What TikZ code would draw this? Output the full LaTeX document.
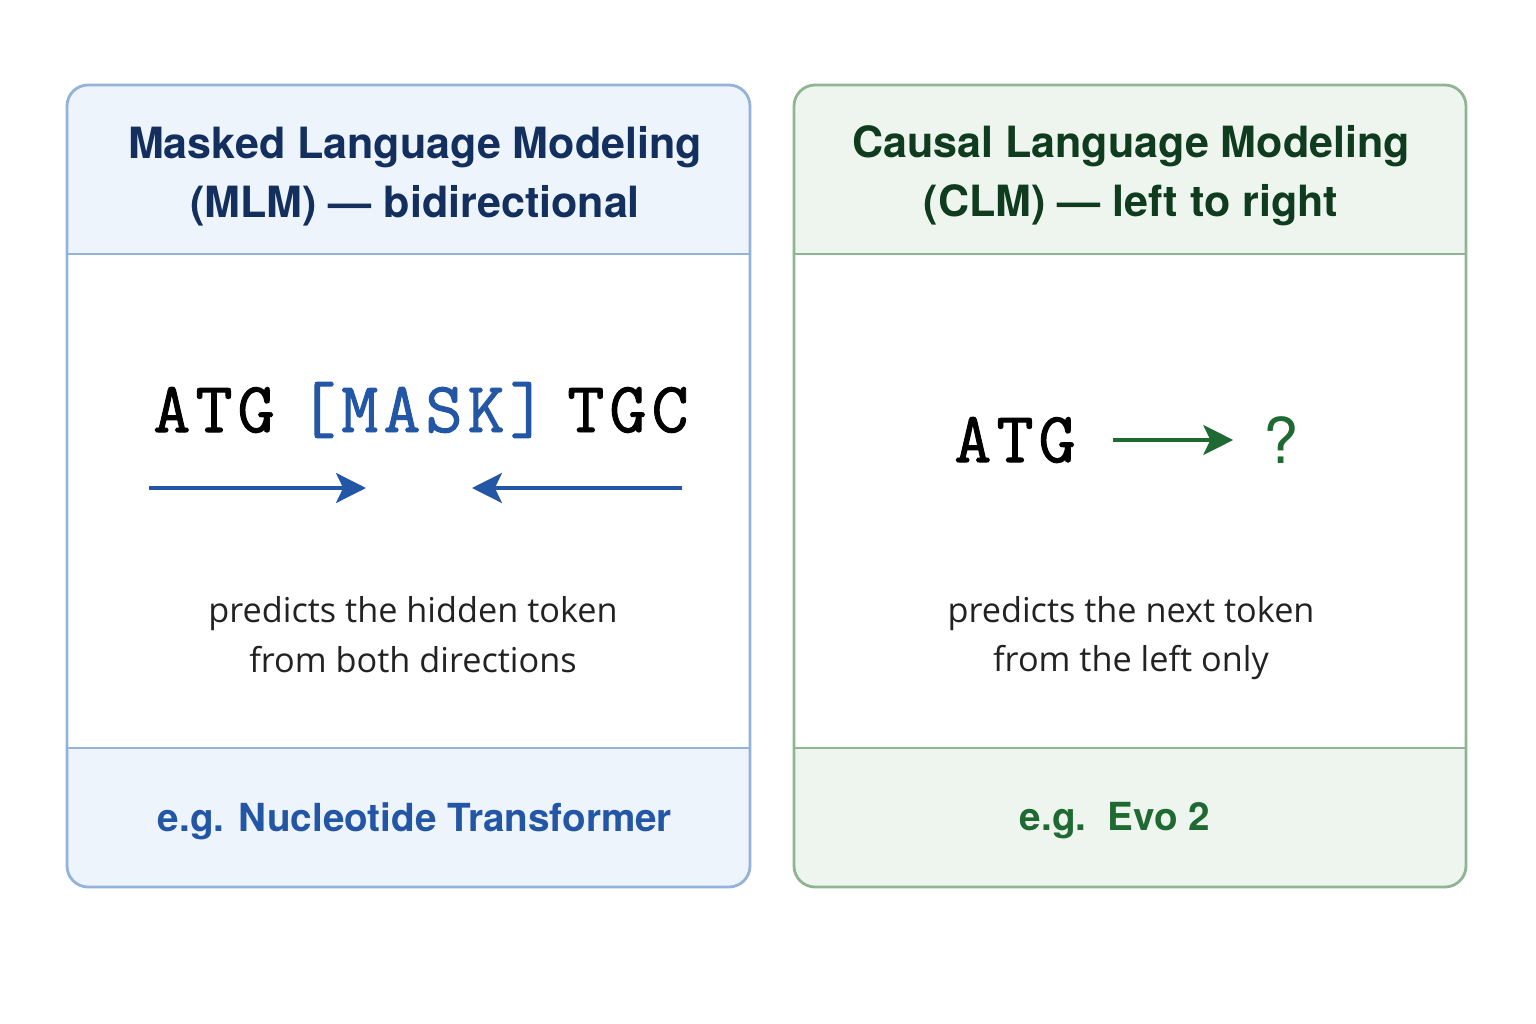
\documentclass[tikz,border=0pt]{standalone}
\usepackage{fontspec}
\setmainfont{TeX Gyre Heros}
\newfontfamily\bodyfont{Open Sans}
\newfontfamily\tokenfont{Latin Modern Mono}[FakeBold=1.3,LetterSpace=7]
\usetikzlibrary{arrows.meta}
\definecolor{mlmline}{HTML}{93B3D8}
\definecolor{mlmfill}{HTML}{EDF4FC}
\definecolor{mlmtitle}{HTML}{132F5E}
\definecolor{mlmblue}{HTML}{2456A6}
\definecolor{clmline}{HTML}{8FB592}
\definecolor{clmfill}{HTML}{EEF5EE}
\definecolor{clmtitle}{HTML}{0F3B1E}
\definecolor{clmgreen}{HTML}{1F6A32}
\definecolor{bodytext}{HTML}{222222}
\tikzset{
  paneltitle/.style={align=center,font=\bfseries\fontsize{24.5}{33.5}\selectfont},
  tokens/.style={inner sep=0pt,font=\fontsize{41}{41}\tokenfont,text=black},
  bodylines/.style={align=center,text=bodytext,font=\bodyfont\fontsize{19.5}{28.3}\selectfont},
  example/.style={font=\bfseries\fontsize{22}{26}\selectfont},
}
\begin{document}
\begin{tikzpicture}[x=0.02cm,y=-0.02cm,>={Stealth[length=17pt,width=17pt,inset=4pt]}]
\useasboundingbox (0,0) rectangle (1536,1024);
% left panel: MLM
\begin{scope}
  \clip[rounded corners=12pt] (67,85) rectangle (750,887);
  \fill[mlmfill] (67,85) rectangle (750,254);
  \fill[mlmfill] (67,748) rectangle (750,887);
\end{scope}
\draw[mlmline,line width=1.6pt,rounded corners=12pt] (67,85) rectangle (750,887);
\draw[mlmline,line width=1.6pt] (67,254)--(750,254) (67,748)--(750,748);
% right panel: CLM
\begin{scope}
  \clip[rounded corners=12pt] (794,85) rectangle (1466,887);
  \fill[clmfill] (794,85) rectangle (1466,254);
  \fill[clmfill] (794,748) rectangle (1466,887);
\end{scope}
\draw[clmline,line width=1.6pt,rounded corners=12pt] (794,85) rectangle (1466,887);
\draw[clmline,line width=1.6pt] (794,254)--(1466,254) (794,748)--(1466,748);

\node[paneltitle,text=mlmtitle] (mlmhead) at (415,176) {Masked Language Modeling\\(MLM) — bidirectional};
\node[paneltitle,text=clmtitle] (clmhead) at (1131,176) {Causal Language Modeling\\(CLM) — left to right};

\node[tokens] (leftctx) at (214,410) {ATG};
\node[tokens,text=mlmblue] (mask) at (423,410) {[MASK]};
\node[tokens] (rightctx) at (628,410) {TGC};
\coordinate (fromleft) at (149,488);
\coordinate (leftend) at (366,488);
\coordinate (fromright) at (682,488);
\coordinate (rightend) at (472,488);
\draw[->,mlmblue,line width=2.3pt] (fromleft)--(leftend);
\draw[->,mlmblue,line width=2.3pt] (fromright)--(rightend);

\node[tokens] (clmseq) at (1015,440) {ATG};
\node[inner sep=0pt,text=clmgreen,font=\fontsize{36}{36}\selectfont] (next) at (1281,440) {?};
\draw[->,clmgreen,line width=2pt,shorten <=21pt,shorten >=17pt] (clmseq.east)--(next.west);

\node[bodylines] (mlmnote) at (413,635) {predicts the hidden token\\from both directions};
\node[bodylines] (clmnote) at (1131,638) {predicts the next token\\from the left only};

\node[example,text=mlmblue] (mlmex) at (415,821) {e.g. Nucleotide Transformer};
\node[example,text=clmgreen] (clmex) at (1115,821) {e.g.\ \ Evo 2};
\end{tikzpicture}
\end{document}
